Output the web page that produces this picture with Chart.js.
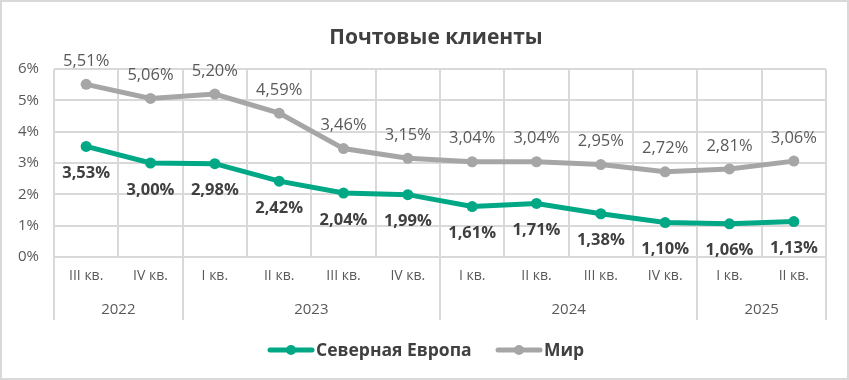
<!DOCTYPE html>
<html><head><meta charset="utf-8">
<script src="https://cdn.jsdelivr.net/npm/chart.js@4"></script>
<style>html,body{margin:0;padding:0;background:#fff}#wrap{width:849px;height:380px;position:relative}</style>
</head><body><div id="wrap"><canvas id="c" width="849" height="380"></canvas></div>
<script>
const quarters = ['III кв.','IV кв.','I кв.','II кв.','III кв.','IV кв.','I кв.','II кв.','III кв.','IV кв.','I кв.','II кв.'];
const years = ['2022','2023','2024','2025'];
const yearSpans = [2,4,4,2];
const northEurope = [3.53,3.00,2.98,2.42,2.04,1.99,1.61,1.71,1.38,1.10,1.06,1.13];
const world = [5.51,5.06,5.20,4.59,3.46,3.15,3.04,3.04,2.95,2.72,2.81,3.06];
const yTicks = [0,1,2,3,4,5,6];
const seriesNames = ['Северная Европа','Мир'];
const titleText = 'Почтовые клиенты';

const GREEN = '#00a886', GRAY = '#a6a6a6', GRID = '#d9d9d9';
const FONT = '"Open Sans", "Noto Sans", sans-serif';

const fmt = v => v.toFixed(2).replace('.', ',') + '%';

const extras = {
  id: 'extras',
  afterDraw(chart) {
    const ctx = chart.ctx;
    const ca = chart.chartArea;
    const n = quarters.length;
    const w = (ca.right - ca.left) / n;
    ctx.save();
    ctx.strokeStyle = GRID; ctx.lineWidth = 2;
    ctx.strokeRect(1, 1, chart.width - 2, chart.height - 2);
    let idx = 0;
    const bounds = [0];
    yearSpans.forEach(s => { idx += s; bounds.push(idx); });
    ctx.beginPath();
    bounds.forEach(b => {
      const px = Math.round(ca.left + b * w);
      ctx.moveTo(px, ca.bottom); ctx.lineTo(px, ca.bottom + 63);
    });
    ctx.stroke();
    ctx.fillStyle = '#595959';
    ctx.font = '15px ' + FONT;
    ctx.textAlign = 'center'; ctx.textBaseline = 'middle';
    years.forEach((yr, i) => {
      const cx = ca.left + (bounds[i] + bounds[i + 1]) / 2 * w;
      ctx.fillText(yr, cx, ca.bottom + 53);
    });
    ctx.fillStyle = '#404040';
    ctx.font = 'bold 21px ' + FONT;
    ctx.fillText(titleText, 436, 38);
    const m0 = chart.getDatasetMeta(0), m1 = chart.getDatasetMeta(1);
    ctx.font = 'bold 16.5px ' + FONT;
    ctx.fillStyle = '#404040';
    m0.data.forEach((p, i) => ctx.fillText(fmt(northEurope[i]), p.x, p.y + 27));
    ctx.font = '16.5px ' + FONT;
    ctx.fillStyle = '#595959';
    m1.data.forEach((p, i) => ctx.fillText(fmt(world[i]), p.x, p.y - 23));
    const ly = 350;
    const items = [{c: GREEN, t: seriesNames[0], x: 270}, {c: GRAY, t: seriesNames[1], x: 498}];
    ctx.font = 'bold 17.5px ' + FONT;
    ctx.textAlign = 'left';
    items.forEach(it => {
      ctx.strokeStyle = it.c; ctx.lineWidth = 5; ctx.lineCap = 'round';
      ctx.beginPath(); ctx.moveTo(it.x, ly); ctx.lineTo(it.x + 42, ly); ctx.stroke();
      ctx.fillStyle = it.c;
      ctx.beginPath(); ctx.arc(it.x + 21, ly, 5, 0, Math.PI * 2); ctx.fill();
      ctx.fillStyle = '#404040';
      ctx.fillText(it.t, it.x + 46, ly + 1);
    });
    ctx.restore();
  }
};

new Chart(document.getElementById('c'), {
  type: 'line',
  data: {
    labels: quarters,
    datasets: [
      {label: seriesNames[0], data: northEurope, borderColor: GREEN, backgroundColor: GREEN, borderWidth: 5, pointRadius: 5.5, pointBackgroundColor: GREEN, pointBorderWidth: 0, tension: 0},
      {label: seriesNames[1], data: world, borderColor: GRAY, backgroundColor: GRAY, borderWidth: 5, pointRadius: 5.5, pointBackgroundColor: GRAY, pointBorderWidth: 0, tension: 0}
    ]
  },
  options: {
    responsive: false,
    animation: false,
    layout: {padding: {top: 69, right: 23, bottom: 0, left: 0}},
    plugins: {legend: {display: false}, title: {display: false}, tooltip: {enabled: false}},
    scales: {
      x: {
        offset: true,
        grid: {offset: true, color: GRID, lineWidth: 2, drawTicks: false},
        border: {color: GRID, width: 2},
        ticks: {color: '#595959', font: {family: FONT, size: 14}, padding: 11, maxRotation: 0, autoSkip: false},
        afterFit(s) { s.height = 123; }
      },
      y: {
        min: 0, max: 6,
        afterBuildTicks(s) { s.ticks = yTicks.map(v => ({value: v})); },
        grid: {color: GRID, lineWidth: 2, drawTicks: false},
        border: {display: false},
        ticks: {color: '#595959', font: {family: FONT, size: 15}, padding: 15, callback: v => v + '%'},
        afterFit(s) { s.width = 54; }
      }
    }
  },
  plugins: [extras]
});
</script></body></html>
